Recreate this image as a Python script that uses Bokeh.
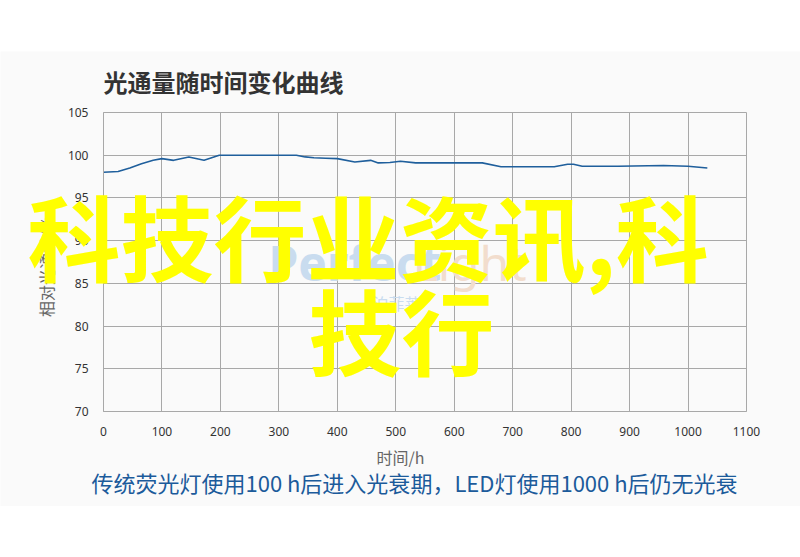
import math
from bokeh.plotting import figure
from bokeh.models import Label, Spacer, FixedTicker, Range1d
from bokeh.layouts import column
from bokeh.embed import file_html
from bokeh.resources import INLINE

# ---- data ----
hours = [0, 25, 45, 65, 85, 100, 120, 146, 172, 198, 250, 300, 330, 345, 360, 380,
         400, 430, 457, 470, 490, 508, 534, 600, 648, 680, 720, 771, 794, 804, 819,
         880, 958, 1000, 1033]
flux = [98.0, 98.1, 98.5, 99.0, 99.4, 99.6, 99.4, 99.8, 99.4, 100.0, 100.0, 100.0, 100.0,
        99.8, 99.7, 99.65, 99.6, 99.2, 99.4, 99.1, 99.15, 99.3, 99.1, 99.1, 99.1, 98.65,
        98.65, 98.65, 98.95, 98.95, 98.7, 98.7, 98.8, 98.7, 98.5]
x_ticks = [0, 100, 200, 300, 400, 500, 600, 700, 800, 900, 1000, 1100]
y_ticks = [70, 75, 80, 85, 90, 95, 100, 105]

title_text = "光通量随时间变化曲线"
x_title = "时间/h"
y_title = "相对光通量/%"
caption = "传统荧光灯使用100 h后进入光衰期，LED灯使用1000 h后仍无光衰"
overlay1 = "科技行业资讯,科"
overlay2 = "技行"

CJK = "Noto Sans CJK SC"
BG = "#fafafa"
GRID = "#a8a8a8"
x0, x1 = x_ticks[0], x_ticks[-1]
y0, y1 = y_ticks[0], y_ticks[-1]

# the frame covers the whole grey panel; the axes sit at fixed locations inside it
p = figure(width=800, height=455, output_backend="svg", toolbar_location=None,
           x_range=Range1d(-176.2, 1192.4), y_range=Range1d(58.88, 112.14),
           min_border=0, background_fill_color=BG, border_fill_color=BG)
p.outline_line_color = None

p.xaxis.fixed_location = y0
p.yaxis.fixed_location = x0
p.xaxis.bounds = (x0, x1)
p.yaxis.bounds = (y0, y1)
for ax in (p.xaxis, p.yaxis):
    ax.axis_line_color = GRID
    ax.major_tick_line_color = None
    ax.minor_tick_line_color = None
    ax.major_label_text_font = "Noto Sans"
    ax.major_label_text_font_size = "12px"
    ax.major_label_text_color = "#333333"
p.xaxis.ticker = FixedTicker(ticks=x_ticks)
p.yaxis.ticker = FixedTicker(ticks=y_ticks)
p.xaxis.major_label_standoff = 9
p.yaxis.major_label_standoff = 9

p.xgrid.ticker = FixedTicker(ticks=x_ticks)
p.ygrid.ticker = FixedTicker(ticks=y_ticks)
p.grid.grid_line_color = GRID
p.grid.grid_line_width = 1
try:
    p.xgrid.cross_bounds = (y0, y1)
    p.ygrid.cross_bounds = (x0, x1)
except Exception:
    p.grid.visible = False
    p.segment(x0=x_ticks, y0=[y0] * len(x_ticks), x1=x_ticks, y1=[y1] * len(x_ticks),
              line_color=GRID, line_width=1)
    p.segment(x0=[x0] * len(y_ticks), y0=y_ticks, x1=[x1] * len(y_ticks), y1=y_ticks,
              line_color=GRID, line_width=1)

p.line(hours, flux, line_color="#1f5f9c", line_width=1.6)


def lab(text, sx, sy, size, color, font=CJK, style="normal", align="left", angle=0.0):
    p.add_layout(Label(x=sx, y=sy, x_units="screen", y_units="screen", text=text,
                       text_font=font, text_font_size=size, text_font_style=style,
                       text_color=color, text_align=align, text_baseline="middle",
                       angle=angle))


# faint watermark
lab("Perfect", 268, 244, "48px", "#c9dcef", font="Noto Sans", style="bold")
lab("Light", 412, 244, "48px", "#f2ddcd", font="Noto Sans")
lab("泊菲莱", 372, 204, "16px", "#c9dcef")

# title, axis titles and caption
lab(title_text, 103, 425, "24px", "#333333", style="bold")
lab(x_title, 400, 50, "16px", "#666666", align="center")
lab(y_title, 45, 240, "16px", "#666666", align="center", angle=math.pi / 2)
lab(caption, 414, 25, "22px", "#1c5b9b", align="center")

# yellow overlay text
lab(overlay1, 27, 272, "93px", "#ffff00", style="bold")
lab(overlay2, 308, 178, "93px", "#ffff00", style="bold")

layout = column(Spacer(width=800, height=51), p)
open("out.html", "w").write(file_html(layout, INLINE))
